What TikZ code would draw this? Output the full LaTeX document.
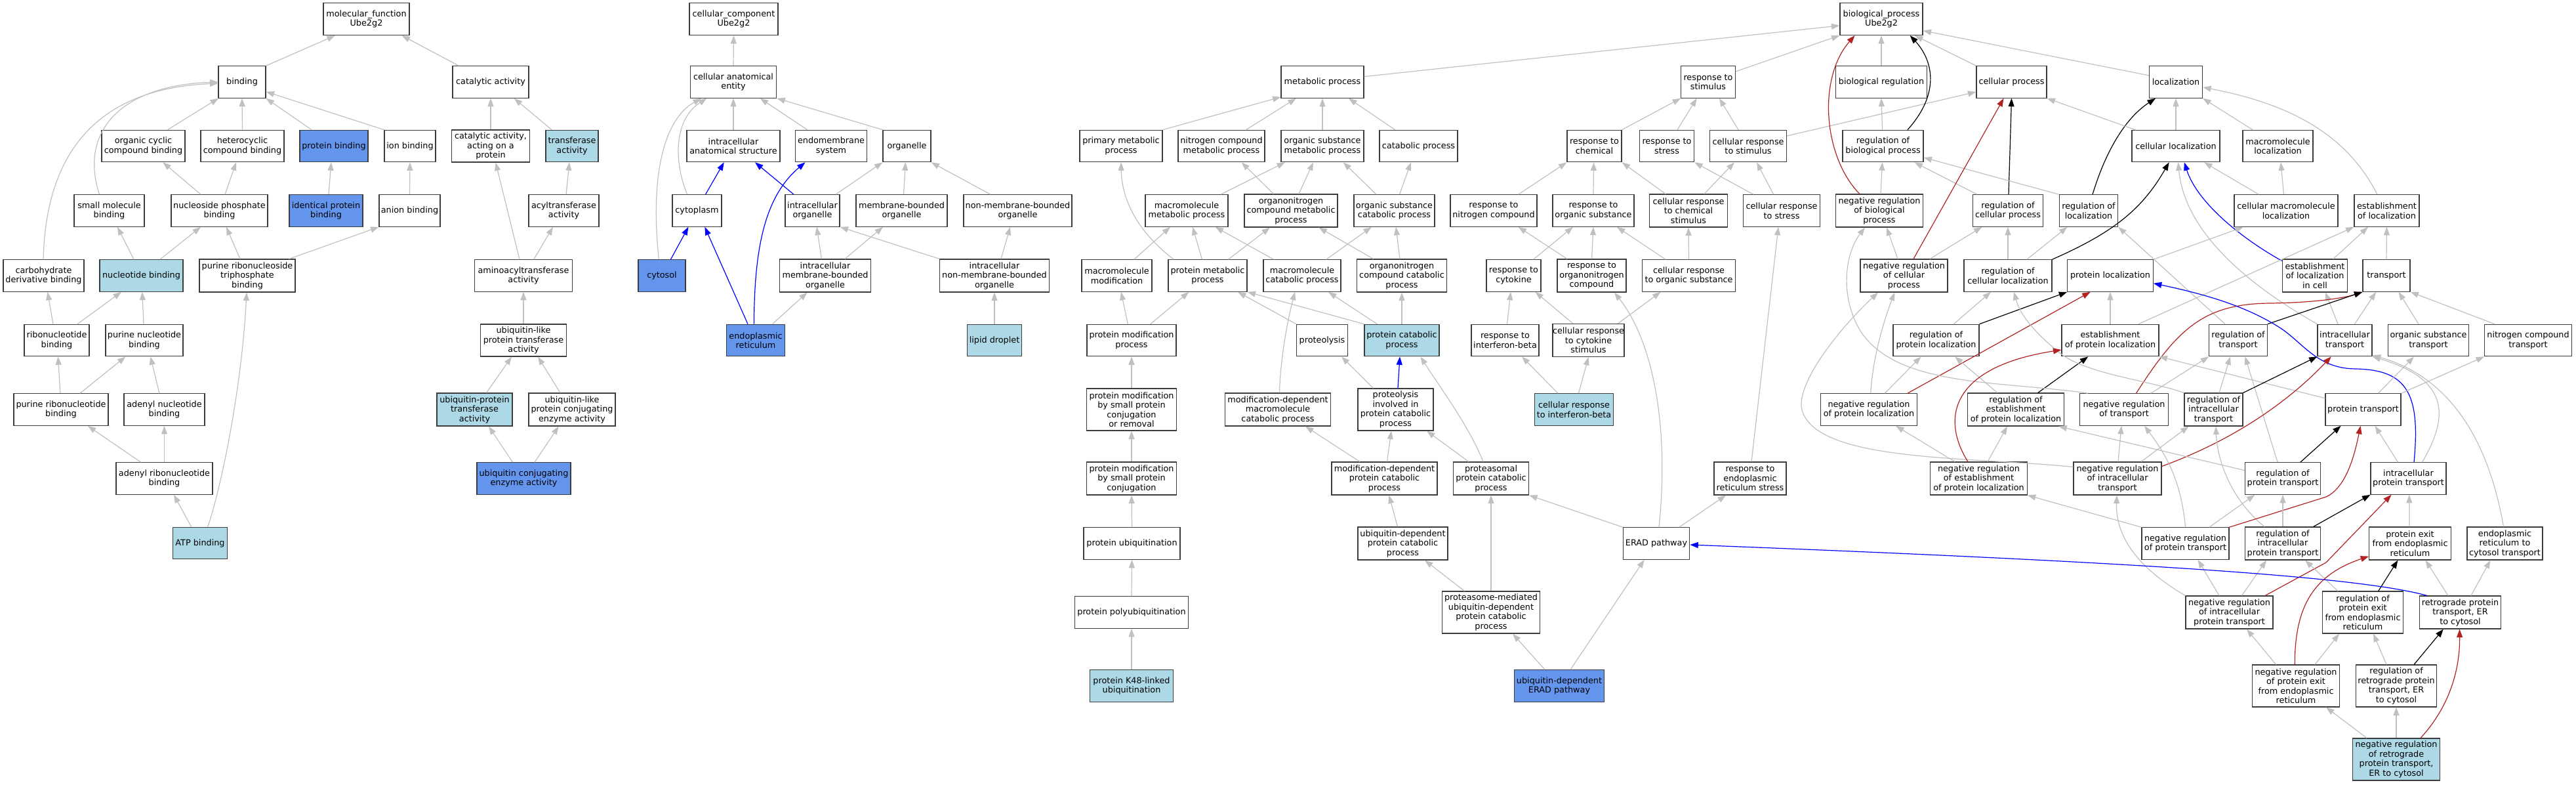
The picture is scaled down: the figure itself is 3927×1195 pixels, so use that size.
\documentclass[tikz,border=0pt]{standalone}
\usepackage{fontspec}
\setmainfont{DejaVu Sans}
\usetikzlibrary{arrows.meta}
\definecolor{nodeb}{HTML}{3C3C3C}
\definecolor{edgegray}{HTML}{C0C0C0}
\definecolor{lightb}{HTML}{ADD8E6}
\definecolor{cornb}{HTML}{6495ED}
\definecolor{fire}{HTML}{B22222}
\tikzset{
 gn/.style={draw=nodeb, line width=1.1pt, fill=white, inner sep=0pt, align=center, font=\fontsize{12.8}{14.5}\selectfont, text=black},
 lb/.style={fill=lightb},
 db/.style={fill=cornb},
 egray/.style={draw=edgegray, line width=1.2pt, -{Triangle[length=12.5pt,width=9pt]}},
 eblack/.style={draw=black, line width=1.2pt, -{Triangle[length=12.5pt,width=9pt]}},
 eblue/.style={draw=blue, line width=1.2pt, -{Triangle[length=12.5pt,width=9pt]}},
 ered/.style={draw=fire, line width=1.2pt, -{Triangle[length=12.5pt,width=9pt]}},
}
\newcommand\gnode[7][]{\node[gn,#1,minimum width=#5pt,minimum height=#6pt] (#2) at (#3,#4) {#7};}
\newcommand\gedge[5][egray]{\draw[#1] ([xshift=#3pt]#2.north) -- ([xshift=#5pt]#4.south);}
\begin{document}
\begin{tikzpicture}[x=1pt,y=-1pt]
\useasboundingbox (0,0) rectangle (3927,1195);
% ---------------- molecular function
\gnode{mf}{558.5}{29}{131}{49}{molecular\_function\\Ube2g2}
\gnode{binding}{369}{125}{72}{48.5}{binding}
\gnode{catalytic}{748}{125}{116}{48.5}{catalytic activity}
\gnode{orgcyc}{218.5}{222.5}{127}{48.5}{organic cyclic\\compound binding}
\gnode{hetero}{369.5}{222.5}{127}{48.5}{heterocyclic\\compound binding}
\gnode[db]{protbind}{509}{222.5}{104}{48.5}{protein binding}
\gnode{ionbind}{625}{222.5}{78}{48.5}{ion binding}
\gnode{catprot}{748}{222.5}{118.5}{49}{catalytic activity,\\acting on a\\protein}
\gnode[lb]{transf}{872}{222.5}{80}{48.5}{transferase\\activity}
\gnode{smallmol}{166.5}{321}{107}{48.5}{small molecule\\binding}
\gnode{nucphos}{334.5}{321}{147}{48.5}{nucleoside phosphate\\binding}
\gnode[db]{identprot}{497}{321}{112}{48.5}{identical protein\\binding}
\gnode{anion}{624.5}{321}{93}{48.5}{anion binding}
\gnode{acyl}{859.5}{321}{107}{48.5}{acyltransferase\\activity}
\gnode{carbo}{66.5}{420}{123}{48.5}{carbohydrate\\derivative binding}
\gnode[lb]{nucleotide}{215.5}{420}{127}{48.5}{nucleotide binding}
\gnode{purtri}{377}{420}{146}{50}{purine ribonucleoside\\triphosphate\\binding}
\gnode{aminoacyl}{798}{420}{148.5}{48.5}{aminoacyltransferase\\activity}
\gnode{ribonuc}{86.5}{518.5}{99}{48.5}{ribonucleotide\\binding}
\gnode{purnuc}{220}{518.5}{118}{48.5}{purine nucleotide\\binding}
\gnode{ubllike}{798}{518.5}{131.5}{49}{ubiquitin-like\\protein transferase\\activity}
\gnode{purribo}{93}{624}{144}{48.5}{purine ribonucleotide\\binding}
\gnode{adenylnuc}{250.5}{624}{123}{48.5}{adenyl nucleotide\\binding}
\gnode[lb]{ubprot}{723.5}{624}{115}{50}{ubiquitin-protein\\transferase\\activity}
\gnode{ublconj}{872}{624}{132}{50}{ubiquitin-like\\protein conjugating\\enzyme activity}
\gnode{adenylribo}{250.5}{729}{147}{48.5}{adenyl ribonucleotide\\binding}
\gnode[db]{ubconj}{798.5}{729}{143}{48.5}{ubiquitin conjugating\\enzyme activity}
\gnode[lb]{atp}{305}{827.5}{83.5}{48.5}{ATP binding}
% ---------------- cellular component
\gnode{cc}{1118.5}{29}{135}{49}{cellular\_component\\Ube2g2}
\gnode{cae}{1118}{125}{131.5}{48.5}{cellular anatomical\\entity}
\gnode{ias}{1118}{222.5}{142}{48.5}{intracellular\\anatomical structure}
\gnode{endo}{1267}{222.5}{109.5}{48.5}{endomembrane\\system}
\gnode{organelle}{1382.5}{222.5}{73}{48.5}{organelle}
\gnode{cytoplasm}{1062.5}{321}{75}{48.5}{cytoplasm}
\gnode{intorg}{1238.5}{321}{83}{48.5}{intracellular\\organelle}
\gnode{mbo}{1374.5}{321}{139}{48.5}{membrane-bounded\\organelle}
\gnode{nmbo}{1551.5}{321}{165}{48.5}{non-membrane-bounded\\organelle}
\gnode[db]{cytosol}{1009}{420}{72}{48.5}{cytosol}
\gnode{imbo}{1258}{420}{138.5}{50}{intracellular\\membrane-bounded\\organelle}
\gnode{inmbo}{1516}{420}{166.5}{50}{intracellular\\non-membrane-bounded\\organelle}
\gnode[db]{er}{1152}{518.5}{88.5}{48.5}{endoplasmic\\reticulum}
\gnode[lb]{lipid}{1516}{518.5}{83.5}{48.5}{lipid droplet}
% ---------------- biological process
\gnode{bp}{2868}{29}{126}{49}{biological\_process\\Ube2g2}
\gnode{metab}{2016}{125}{126}{48.5}{metabolic process}
\gnode{respstim}{2604}{125}{82.6}{48.5}{response to\\stimulus}
\gnode{bioreg}{2868}{125}{138.5}{48.5}{biological regulation}
\gnode{cellproc}{3066.5}{125}{107}{48.5}{cellular process}
\gnode{loc}{3317}{125}{81}{48.5}{localization}
\gnode{primet}{1709}{222.5}{126}{48.5}{primary metabolic\\process}
\gnode{ncmet}{1862}{222.5}{132}{48.5}{nitrogen compound\\metabolic process}
\gnode{osmet}{2016}{222.5}{126}{48.5}{organic substance\\metabolic process}
\gnode{catab}{2162.5}{222.5}{119}{48.5}{catabolic process}
\gnode{respchem}{2430.5}{222.5}{83}{48.5}{response to\\chemical}
\gnode{respstress}{2541}{222.5}{83}{48.5}{response to\\stress}
\gnode{crstim}{2665}{222.5}{117.5}{48.5}{cellular response\\to stimulus}
\gnode{regbio}{2870.5}{222.5}{123}{48.5}{regulation of\\biological process}
\gnode{cellloc}{3317}{222.5}{134}{48.5}{cellular localization}
\gnode{macroloc}{3472.5}{222.5}{107}{48.5}{macromolecule\\localization}
\gnode{mmmet}{1809}{321}{126}{48.5}{macromolecule\\metabolic process}
\gnode{oncmet}{1968}{321}{142}{50}{organonitrogen\\compound metabolic\\process}
\gnode{oscat}{2125.5}{321}{123}{48.5}{organic substance\\catabolic process}
\gnode{respnit}{2277}{321}{132}{48.5}{response to\\nitrogen compound}
\gnode{resporg}{2429}{321}{124}{48.5}{response to\\organic substance}
\gnode{crchem}{2574}{321}{118.7}{50}{cellular response\\to chemical\\stimulus}
\gnode{crstress}{2716}{321}{117.5}{48.5}{cellular response\\to stress}
\gnode{negregbio}{2865}{321}{133.5}{50}{negative regulation\\of biological\\process}
\gnode{regcell}{3061}{321}{107.5}{48.5}{regulation of\\cellular process}
\gnode{regloc}{3184}{321}{89.6}{48.5}{regulation of\\localization}
\gnode{cmloc}{3485}{321}{158}{48.5}{cellular macromolecule\\localization}
\gnode{estloc}{3638.5}{321}{99}{48.5}{establishment\\of localization}
\gnode{mmmod}{1702.5}{420}{107}{48.5}{macromolecule\\modification}
\gnode{protmet}{1841}{420}{120}{48.5}{protein metabolic\\process}
\gnode{mmcat}{1985}{420}{118}{48.5}{macromolecule\\catabolic process}
\gnode{onccat}{2137}{420}{137.5}{50}{organonitrogen\\compound catabolic\\process}
\gnode{respcyt}{2307.5}{420}{83}{48.5}{response to\\cytokine}
\gnode{responc}{2426.5}{420}{105}{50}{response to\\organonitrogen\\compound}
\gnode{crorg}{2574.5}{420}{142}{48.5}{cellular response\\to organic substance}
\gnode{negregcell}{2902.5}{420}{133}{50}{negative regulation\\of cellular\\process}
\gnode{regcellloc}{3061}{420}{134}{48.5}{regulation of\\cellular localization}
\gnode{protloc}{3217}{420}{130.5}{48.5}{protein localization}
\gnode{estloccell}{3529}{420}{99.5}{50}{establishment\\of localization\\in cell}
\gnode{transport}{3638}{420}{72}{48.5}{transport}
\gnode{protmod}{1725}{518.5}{136}{48.5}{protein modification\\process}
\gnode{proteolysis}{2015.5}{518.5}{78}{48.5}{proteolysis}
\gnode[lb]{protcat}{2137}{518.5}{114}{48.5}{protein catabolic\\process}
\gnode{respifn}{2294.5}{518.5}{103}{48.5}{response to\\interferon-beta}
\gnode{crcyt}{2421.5}{518.5}{101}{50}{cellular response\\to cytokine\\stimulus}
\gnode{regprotloc}{2951.5}{518.5}{131}{48.5}{regulation of\\protein localization}
\gnode{estprotloc}{3217}{518.5}{148}{48.5}{establishment\\of protein localization}
\gnode{regtrans}{3412}{518.5}{88.5}{48.5}{regulation of\\transport}
\gnode{inttrans}{3574.5}{518.5}{83}{48.5}{intracellular\\transport}
\gnode{ostrans}{3702}{518.5}{123.5}{48.5}{organic substance\\transport}
\gnode{nctrans}{3854}{518.5}{132.5}{48.5}{nitrogen compound\\transport}
\gnode{pmspcr}{1725}{624}{137}{64}{protein modification\\by small protein\\conjugation\\or removal}
\gnode{mdmmcat}{1948}{624}{160.4}{50}{modification-dependent\\macromolecule\\catabolic process}
\gnode{prolcat}{2127.5}{624}{115}{64}{proteolysis\\involved in\\protein catabolic\\process}
\gnode[lb]{crifn}{2399.5}{624}{120}{48.5}{cellular response\\to interferon-beta}
\gnode{negregprotloc}{2849}{624}{147.5}{48.5}{negative regulation\\of protein localization}
\gnode{regestprotloc}{3073}{624}{147.5}{50}{regulation of\\establishment\\of protein localization}
\gnode{negregtrans}{3238}{624}{134.6}{48.5}{negative regulation\\of transport}
\gnode{reginttrans}{3374.5}{624}{89}{50}{regulation of\\intracellular\\transport}
\gnode{prottrans}{3602.5}{624}{115}{48.5}{protein transport}
\gnode{pmspc}{1725}{729}{137}{50}{protein modification\\by small protein\\conjugation}
\gnode{mdpcat}{2110.5}{729}{161}{50}{modification-dependent\\protein catabolic\\process}
\gnode{proteasomal}{2273}{729}{115}{50}{proteasomal\\protein catabolic\\process}
\gnode{resper}{2668}{729}{110}{50}{response to\\endoplasmic\\reticulum stress}
\gnode{negregestprotloc}{3016.5}{729}{147.5}{50}{negative regulation\\of establishment\\of protein localization}
\gnode{negreginttrans}{3228}{729}{134}{50}{negative regulation\\of intracellular\\transport}
\gnode{regprottrans}{3480}{729}{115}{48.5}{regulation of\\protein transport}
\gnode{intprottrans}{3671.5}{729}{115}{48.5}{intracellular\\protein transport}
\gnode{protubi}{1725.5}{828}{147}{48.5}{protein ubiquitination}
\gnode{ubdepcat}{2138.5}{828}{137}{50}{ubiquitin-dependent\\protein catabolic\\process}
\gnode{erad}{2525}{828}{101.5}{48.5}{ERAD pathway}
\gnode{negregprottrans}{3331.5}{828}{133}{48.5}{negative regulation\\of protein transport}
\gnode{regintprottrans}{3480}{828}{115}{50}{regulation of\\intracellular\\protein transport}
\gnode{protexit}{3674}{828}{124.7}{50}{protein exit\\from endoplasmic\\reticulum}
\gnode{ertocyt}{3818.5}{828}{115}{50}{endoplasmic\\reticulum to\\cytosol transport}
\gnode{polyubi}{1725}{933}{173.5}{48.5}{protein polyubiquitination}
\gnode{proteasome}{2273}{933}{149.4}{64}{proteasome-mediated\\ubiquitin-dependent\\protein catabolic\\process}
\gnode{negregintprottrans}{3398.5}{933}{133}{50}{negative regulation\\of intracellular\\protein transport}
\gnode{regprotexit}{3602}{933}{123.5}{64}{regulation of\\protein exit\\from endoplasmic\\reticulum}
\gnode{retro}{3750.5}{933}{124}{50}{retrograde protein\\transport, ER\\to cytosol}
\gnode[lb]{k48}{1725}{1045}{126.5}{48.5}{protein K48-linked\\ubiquitination}
\gnode[db]{ubierad}{2377}{1045}{136.5}{48.5}{ubiquitin-dependent\\ERAD pathway}
\gnode{negregprotexit}{3500}{1045}{133.7}{64}{negative regulation\\of protein exit\\from endoplasmic\\reticulum}
\gnode{regretro}{3653}{1045}{123.5}{64}{regulation of\\retrograde protein\\transport, ER\\to cytosol}
\gnode[lb]{negregretro}{3653}{1157}{133.5}{64}{negative regulation\\of retrograde\\protein transport,\\ER to cytosol}
% ================= edges: molecular function
\draw[egray] (binding.north east) -- ([xshift=-47.5pt]mf.south);
\gedge{catalytic}{-48.6}{mf}{54}
\gedge{orgcyc}{37}{binding}{-36}
\gedge{hetero}{0}{binding}{0}
\draw[egray] ([xshift=-34pt]protbind.north) -- (binding.south east);
\draw[egray] (ionbind.north west) -- ([yshift=-14.7pt]binding.east);
\draw[egray] ([xshift=-15pt]smallmol.north) .. controls (120,200) and (185,130) .. (binding.west);
\draw[egray] ([xshift=-0.5pt]carbo.north) .. controls (70,230) and (150,135) .. ([yshift=-2pt]binding.west);
\gedge{nucphos}{-28.5}{orgcyc}{29.8}
\gedge{nucphos}{8.5}{hetero}{-9.5}
\gedge{identprot}{4}{protbind}{-4}
\gedge{anion}{0}{ionbind}{0}
\gedge{nucleotide}{-11.5}{smallmol}{12.5}
\gedge{nucleotide}{28.5}{nucphos}{-28.5}
\gedge{purtri}{-11}{nucphos}{10.5}
\draw[egray] ([xshift=63.7pt]purtri.north) -- (anion.south west);
\gedge{ribonuc}{-5.5}{carbo}{6}
\gedge{ribonuc}{31.5}{nucleotide}{-30.5}
\gedge{purnuc}{-1}{nucleotide}{1.3}
\gedge{purribo}{-1.2}{ribonuc}{2}
\gedge{purribo}{29}{purnuc}{-28.5}
\gedge{adenylnuc}{-7.5}{purnuc}{9.4}
\gedge{adenylribo}{-35.8}{purribo}{40.8}
\gedge{adenylribo}{0}{adenylnuc}{0}
\gedge{atp}{-13.3}{adenylribo}{14.5}
\draw[egray] ([xshift=11.5pt]atp.north) .. controls (334,755) and (368,600) .. ([xshift=-1pt]purtri.south);
\gedge{catprot}{0}{catalytic}{0}
\gedge{transf}{-31}{catalytic}{35.75}
\gedge{acyl}{3.5}{transf}{-4}
\gedge{aminoacyl}{-6}{catprot}{7.6}
\gedge{aminoacyl}{15.75}{acyl}{-16.5}
\gedge{ubllike}{0}{aminoacyl}{0}
\gedge{ubprot}{18}{ubllike}{-18}
\gedge{ublconj}{-18}{ubllike}{22}
\gedge{ubconj}{-17}{ubprot}{21.5}
\gedge{ubconj}{16.5}{ublconj}{-20.3}
% ================= edges: cellular component
\gedge{cae}{0}{cc}{0}
\gedge{ias}{0}{cae}{0}
\gedge{endo}{-36.4}{cae}{40.75}
\draw[egray] (organelle.north west) -- (cae.south east);
\draw[egray] ([xshift=-15pt]cytoplasm.north) .. controls (1025,240) and (1030,180) .. ([xshift=-40.5pt]cae.south);
\draw[egray] ([xshift=-4.6pt]cytosol.north) .. controls (990,260) and (1015,180) .. ([xshift=-49pt]cae.south);
\gedge[eblue]{cytoplasm}{13}{ias}{-14.25}
\gedge[eblue]{intorg}{-28.5}{ias}{33}
\draw[egray] ([xshift=35.5pt]intorg.north) -- (organelle.south west);
\gedge{mbo}{3}{organelle}{-2}
\draw[egray] ([xshift=-41.5pt]nmbo.north) -- (organelle.south east);
\gedge[eblue]{cytosol}{13.5}{cytoplasm}{-13.1}
\gedge[eblue]{er}{-12}{cytoplasm}{11.9}
\draw[eblue] ([xshift=-2.6pt]er.north) .. controls (1150,380) and (1165,300) .. ([xshift=-39.5pt]endo.south);
\gedge{er}{25.5}{imbo}{-27.4}
\gedge{imbo}{-5.5}{intorg}{6.5}
\gedge{imbo}{30}{mbo}{-28.5}
\draw[egray] (inmbo.north west) -- (intorg.south east);
\gedge{inmbo}{10}{nmbo}{-11.5}
\gedge{lipid}{0}{inmbo}{0}
% ================= edges: biological process
\draw[egray] ([yshift=8.3pt]metab.east) -- ([yshift=-10pt]bp.west);
\draw[egray] (primet.north east) -- ([yshift=2pt]metab.south west);
\gedge{ncmet}{37.6}{metab}{-40}
\gedge{osmet}{0}{metab}{0}
\gedge{catab}{-36}{metab}{40}
\draw[egray] (respchem.north east) -- (respstim.south west);
\gedge{respstress}{16}{respstim}{-17.3}
\gedge{crstim}{-15}{respstim}{17}
\draw[egray] ([yshift=15.5pt]crstim.east) -- ([yshift=-15pt]cellproc.west);
\draw[egray] ([yshift=16pt]respstim.east) -- (bp.south west);
\gedge{bioreg}{0}{bp}{0}
\draw[egray] (cellproc.north west) -- ([xshift=51pt]bp.south);
\draw[egray] ([yshift=10pt]loc.west) -- ([yshift=-17.7pt]bp.east);
\gedge{regbio}{-1}{bioreg}{0}
\draw[eblack] ([xshift=37.5pt]regbio.north) .. controls (2960,140) and (2945,90) .. ([xshift=43.7pt]bp.south);
\draw[ered] ([xshift=-30pt]negregbio.north) .. controls (2780,240) and (2770,120) .. ([xshift=-40.5pt]bp.south);
\gedge{negregbio}{2}{regbio}{-1}
\gedge[eblack]{regcell}{1}{cellproc}{0}
\gedge{regcell}{-47}{regbio}{48}
\draw[egray] (regloc.north west) -- ([yshift=-17.5pt]regbio.east);
\draw[eblack] ([xshift=6pt]regloc.north) .. controls (3210,230) and (3240,180) .. ([xshift=-31pt]loc.south);
\draw[egray] ([xshift=-35pt]crchem.north) -- (respchem.south east);
\gedge{crchem}{24}{crstim}{-21}
\draw[egray] ([xshift=-43pt]crstress.north) -- (respstress.south east);
\gedge{crstress}{-12.4}{crstim}{13}
\gedge{crorg}{-35.5}{resporg}{36}
\gedge{crorg}{0}{crchem}{0}
\gedge{negregcell}{-9.5}{negregbio}{11}
\gedge{negregcell}{39.5}{regcell}{-39.6}
\gedge[ered]{negregcell}{14.5}{cellproc}{-12}
\gedge{regcellloc}{0}{regcell}{0}
\gedge{regcellloc}{29}{regloc}{-32.5}
\draw[eblack] (regcellloc.north east) .. controls (3220,355) and (3265,320) .. ([xshift=-10.4pt]cellloc.south);
\gedge{cellloc}{0}{loc}{0}
\draw[egray] ([xshift=-38.5pt]macroloc.north) -- (loc.south east);
\draw[egray] ([xshift=-14.5pt]estloc.north) .. controls (3580,210) and (3500,160) .. ([yshift=-8pt]loc.east);
\draw[egray] ([xshift=5.6pt]cellloc.north west) -- (cellproc.south east);
\gedge{cmloc}{-41.6}{cellloc}{43}
\gedge{cmloc}{-3.6}{macroloc}{4.5}
\draw[eblue] ([yshift=-3pt]estloccell.north west) .. controls (3420,365) and (3350,310) .. ([xshift=12.8pt]cellloc.south);
\gedge{estloccell}{28}{estloc}{-28.5}
\gedge{transport}{0}{estloc}{0}
\draw[egray] ([xshift=43pt]estprotloc.north) -- (estloc.south west);
\draw[egray] (protloc.north east) -- ([xshift=-65pt]cmloc.south);
\draw[egray] (inttrans.north west) .. controls (3420,430) and (3330,350) .. ([xshift=3.5pt]cellloc.south);
\gedge{inttrans}{-10.5}{estloccell}{16}
\draw[egray] ([xshift=-20pt]regtrans.north) -- (regloc.south east);
\draw[ered] ([xshift=18.5pt]negregtrans.north) .. controls (3320,500) and (3360,463) .. (3460,462) .. controls (3540,461) and (3580,452) .. (transport.south west);
\draw[eblack] (regtrans.north east) -- (transport.south west);
\gedge{inttrans}{15}{transport}{-16}
\gedge{ostrans}{-15}{transport}{18.6}
\draw[egray] ([xshift=-51pt]nctrans.north) -- (transport.south east);
\draw[eblue] ([xshift=8.5pt]intprottrans.north) .. controls (3690,600) and (3670,563) .. (3590,562) .. controls (3530,561) and (3510,520) .. (3472,497) .. controls (3420,465) and (3360,448) .. ([yshift=-11.7pt]protloc.east);
\gedge{estprotloc}{0}{protloc}{0}
\gedge[eblack]{regestprotloc}{33.7}{estprotloc}{-33.7}
\gedge[ered]{negregprotloc}{59}{protloc}{-30.3}
\draw[eblack] (regprotloc.north east) -- (protloc.south west);
\gedge{regprotloc}{26.8}{regcellloc}{-26}
\draw[egray] ([xshift=2.7pt]negregprotloc.north) .. controls (2855,540) and (2875,480) .. ([xshift=-14.2pt]negregcell.south);
\gedge{negregprotloc}{24.3}{regprotloc}{-23}
\draw[egray] ([yshift=-8pt]negreginttrans.north west) .. controls (3000,695) and (2760,705) .. (2746,620) .. controls (2743,575) and (2810,495) .. ([xshift=-39.5pt]negregcell.south);
\draw[egray] ([xshift=-55pt]negregtrans.north) .. controls (3050,580) and (2900,590) .. (2840,510) .. controls (2805,460) and (2810,390) .. ([xshift=-22pt]negregbio.south);
\draw[egray] (reginttrans.north west) .. controls (3270,578) and (3180,570) .. (3139,537) .. controls (3100,505) and (3080,480) .. ([xshift=9pt]regcellloc.south);
\draw[egray] ([yshift=17.3pt]prottrans.west) -- (estprotloc.south east);
\gedge{prottrans}{23}{ostrans}{-22}
\draw[egray] (prottrans.north east) -- (nctrans.south west);
\draw[egray] ([xshift=41pt]negregtrans.north) -- (regtrans.south west);
\gedge{reginttrans}{8.5}{regtrans}{-12}
\gedge{regprottrans}{-8}{regtrans}{10.5}
\draw[eblack] (reginttrans.north east) -- (inttrans.south west);
\draw[ered] ([yshift=-7pt]negreginttrans.north east) .. controls (3420,665) and (3500,600) .. ([xshift=-20.7pt]inttrans.south);
\draw[egray] ([xshift=21pt]intprottrans.north) .. controls (3730,640) and (3740,580) .. (inttrans.south east);
\draw[egray] ([xshift=-2pt]ertocyt.north) .. controls (3790,650) and (3720,570) .. ([yshift=2pt]inttrans.south east);
\gedge{negreginttrans}{1}{negregtrans}{-4}
\draw[egray] (negregprottrans.north) .. controls (3325,730) and (3300,690) .. ([xshift=31pt]negregtrans.south);
\gedge{negreginttrans}{36}{reginttrans}{-38}
\draw[egray] ([xshift=-28pt]regintprottrans.north) .. controls (3400,760) and (3380,700) .. ([xshift=3.5pt]reginttrans.south);
\gedge[eblack]{regprottrans}{26.8}{prottrans}{-34}
\draw[ered] (negregprottrans.north east) -- (3546,757) .. controls (3578,742) and (3590,690) .. ([xshift=-4pt]prottrans.south);
\gedge{intprottrans}{-16}{prottrans}{18}
\gedge{negregprottrans}{36.5}{regprottrans}{-42.6}
\gedge{regintprottrans}{0}{regprottrans}{0}
\draw[eblack] ([xshift=46.6pt]regintprottrans.north) -- (intprottrans.south west);
\draw[ered] ([xshift=54.5pt]negregintprottrans.north) -- (3546,857) -- ([xshift=-26pt]intprottrans.south);
\gedge{protexit}{-1}{intprottrans}{1.3}
\draw[egray] (negregintprottrans.north west) .. controls (3250,860) and (3225,810) .. ([xshift=-1pt]negreginttrans.south);
\gedge{negregintprottrans}{-15.5}{negregprottrans}{19}
\gedge{negregintprottrans}{19}{regintprottrans}{-25}
\gedge{regprotexit}{-38}{regintprottrans}{34}
\gedge[eblack]{regprotexit}{23.7}{protexit}{-18.6}
\gedge{retro}{-18.5}{protexit}{23.5}
\gedge{retro}{16.5}{ertocyt}{-22}
\draw[eblue] ([xshift=-50.5pt]retro.north) .. controls (3600,880) and (3300,858) .. ([yshift=-2pt]erad.east);
\gedge{negregprotexit}{-30.4}{negregintprottrans}{26.5}
\gedge{negregprotexit}{29}{regprotexit}{-36}
\draw[ered] ([xshift=-1.7pt]negregprotexit.north) .. controls (3498,920) and (3530,875) .. ([yshift=6pt]protexit.south west);
\gedge{regretro}{-15}{regprotexit}{16}
\gedge[eblack]{regretro}{27}{retro}{-25.7}
\gedge{negregretro}{-45}{negregprotexit}{46}
\gedge{negregretro}{0}{regretro}{0}
\draw[ered] ([xshift=37pt]negregretro.north) .. controls (3740,1070) and (3750,1010) .. ([xshift=-1pt]retro.south);
\gedge{regestprotloc}{-28}{regprotloc}{28.5}
\gedge{negregestprotloc}{-36.5}{negregprotloc}{41}
\gedge{negregestprotloc}{13.5}{regestprotloc}{-13}
\draw[ered] ([xshift=-16.5pt]negregestprotloc.north) .. controls (2960,640) and (2970,560) .. ([yshift=-14.5pt]estprotloc.west);
\draw[egray] (negregprottrans.north west) -- (negregestprotloc.south east);
\draw[egray] ([yshift=12.3pt]regprottrans.west) -- ([xshift=-9pt]regestprotloc.south east);
\draw[egray] (erad.north west) -- (proteasomal.south east);
\gedge{erad}{34.7}{resper}{-37}
\draw[egray] ([xshift=4pt]erad.north) .. controls (2545,650) and (2520,520) .. ([xshift=34.5pt]responc.south);
\draw[egray] ([xshift=2pt]resper.north) -- ([xshift=-5pt]crstress.south);
\gedge{pmspcr}{0}{protmod}{0}
\gedge{pmspc}{0}{pmspcr}{0}
\gedge{protubi}{0}{pmspc}{0}
\gedge{polyubi}{0}{protubi}{0}
\gedge{k48}{0}{polyubi}{0}
\gedge{mdpcat}{-37.5}{mdmmcat}{42}
\gedge{mdpcat}{4}{prolcat}{-6.5}
\gedge{proteasomal}{-34}{prolcat}{47.5}
\draw[egray] ([xshift=-12pt]proteasomal.north) .. controls (2240,650) and (2195,590) .. ([xshift=28.4pt]protcat.south);
\gedge{ubdepcat}{-8}{mdpcat}{7}
\gedge{proteasome}{-40.5}{ubdepcat}{33.5}
\gedge{proteasome}{0}{proteasomal}{0}
\gedge{ubierad}{-22}{proteasome}{33}
\gedge{ubierad}{17}{erad}{-18.3}
\draw[egray] ([xshift=2.5pt]mdmmcat.north) .. controls (1952,540) and (1965,480) .. ([xshift=-11pt]mmcat.south);
\gedge{crifn}{-24.5}{respifn}{25.5}
\gedge{crifn}{7}{crcyt}{0}
\draw[egray] ([xshift=-51.6pt]protmet.north) .. controls (1730,350) and (1710,300) .. (primet.south);
\gedge{mmmet}{52}{osmet}{-57}
\gedge{oncmet}{-26.5}{ncmet}{30.7}
\gedge{oncmet}{12}{osmet}{-14}
\gedge{oscat}{-27.5}{osmet}{31.7}
\gedge{oscat}{8}{catab}{-11.5}
\draw[egray] ([xshift=37.6pt]respnit.north) -- (respchem.south west);
\gedge{resporg}{0}{respchem}{-1}
\gedge{mmmod}{26.5}{mmmet}{-25}
\gedge{protmet}{-8.5}{mmmet}{9}
\gedge{protmet}{31.6}{oncmet}{-32}
\gedge{mmcat}{-43.5}{mmmet}{43.6}
\gedge{mmcat}{37}{oscat}{-34.7}
\gedge{onccat}{-43.4}{oncmet}{42.4}
\gedge{onccat}{-3}{oscat}{2.5}
\gedge{respcyt}{30}{resporg}{-31}
\gedge{responc}{0}{resporg}{0}
\gedge{responc}{-37.5}{respnit}{37.6}
\draw[egray] ([xshift=45pt]crcyt.north) -- ([xshift=-43pt]crorg.south);
\gedge{protmod}{-5.6}{mmmod}{6.5}
\gedge{protmod}{28.8}{protmet}{-28.6}
\draw[egray] (proteolysis.north west) -- ([xshift=46pt]protmet.south);
\draw[egray] (protcat.north west) -- (protmet.south east);
\gedge{protcat}{-37.6}{mmcat}{40}
\gedge{protcat}{0}{onccat}{0}
\gedge{prolcat}{-34}{proteolysis}{29.5}
\gedge[eblue]{prolcat}{3.5}{protcat}{-3}
\gedge{respifn}{3}{respcyt}{-4.5}
\gedge{crcyt}{-23.5}{respcyt}{33}
\end{tikzpicture}
\end{document}
